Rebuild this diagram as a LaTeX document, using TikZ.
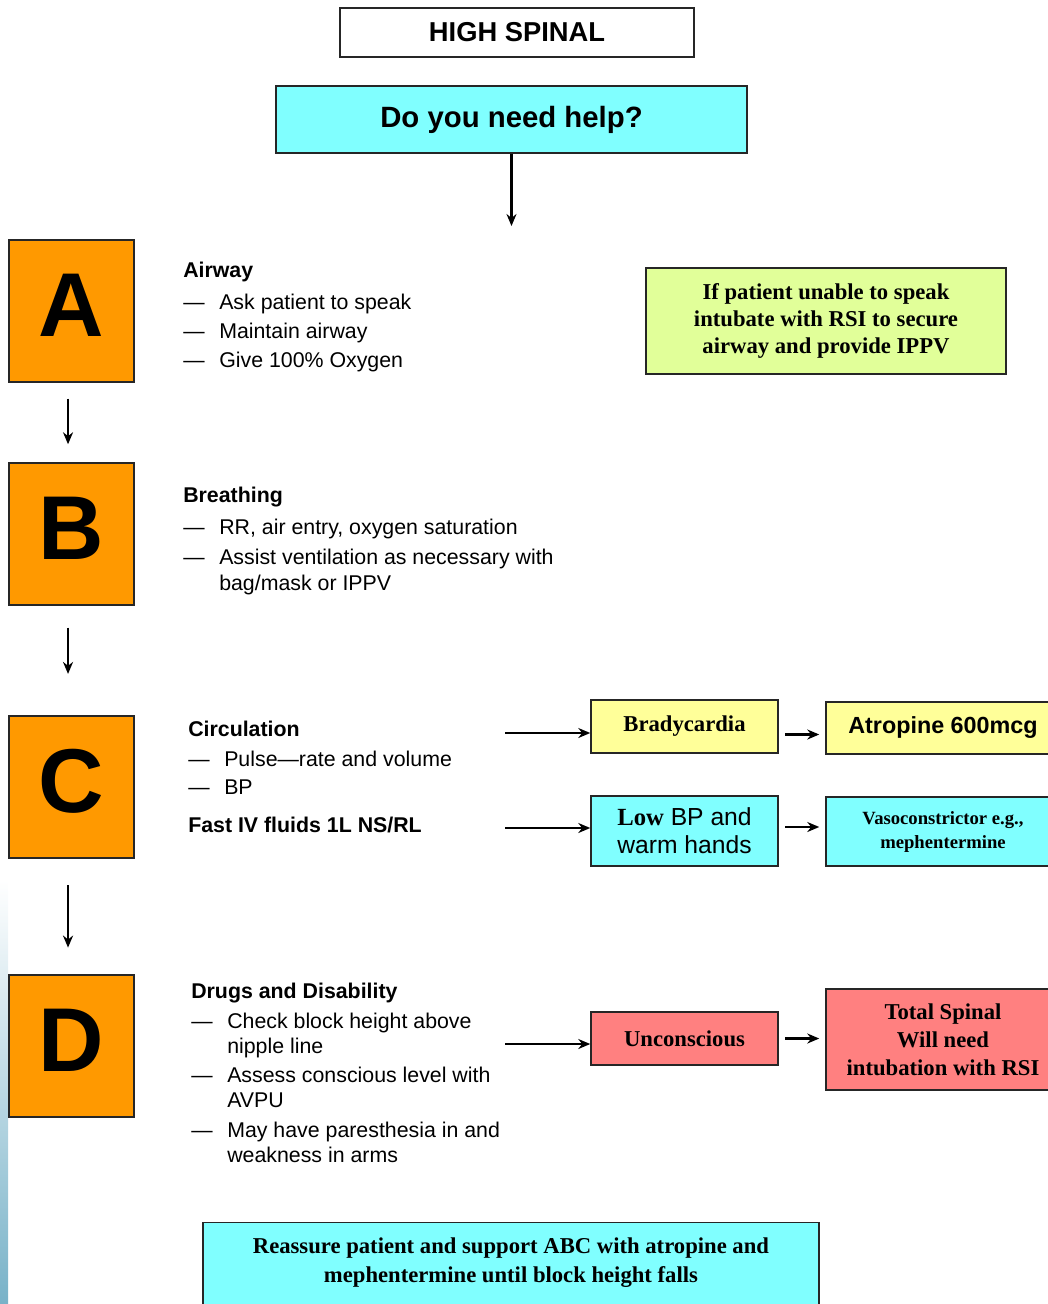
\documentclass[tikz,border=0pt]{standalone}
\usepackage{fontspec}
\setmainfont{Liberation Sans}
\newfontfamily\timesfont{Liberation Serif}
\usetikzlibrary{arrows.meta}

\definecolor{helpcyan}{RGB}{128,255,255}
\definecolor{abcorange}{RGB}{255,153,0}
\definecolor{airgreen}{RGB}{225,255,153}
\definecolor{bradyellow}{RGB}{255,255,153}
\definecolor{spinalred}{RGB}{255,128,128}
\definecolor{stripblue}{RGB}{120,178,200}

\newcommand{\dashitem}{\makebox[27pt][l]{—}}
\newcommand{\wrapline}{\hspace*{27pt}}

\begin{document}
\begin{tikzpicture}[x=0.75pt,y=-0.75pt]
\tikzstyle{every node}+=[inner sep=0pt]
\tikzstyle{box}=[draw=black!85, line width=1.1pt, rectangle, align=center]
\tikzstyle{abc}=[box, fill=abcorange, minimum width=93.75pt, minimum height=106.5pt, font=\fontsize{68}{68}\selectfont\bfseries, text depth=9pt]
\tikzstyle{notes}=[anchor=north west, align=left, font=\fontsize{16}{22}\selectfont]
\tikzstyle{arr}=[-{Stealth[length=9pt,width=7.5pt]}, line width=1.7pt]
\useasboundingbox (0,0) rectangle (1047,1304);
\shade [top color=white, bottom color=stripblue] (0,880) rectangle (8,1304);
% header
\node [box, fill=white, line width=1.6pt, minimum width=265.5pt, minimum height=36.75pt, font=\fontsize{20.5}{20.5}\selectfont\bfseries] (title) at (517,32.5) {HIGH SPINAL};
\node [box, fill=helpcyan, minimum width=353.25pt, minimum height=50.25pt, font=\fontsize{22}{22}\selectfont\bfseries] (help) at (511.5,119.5) {Do you need help?};
\coordinate (helpend) at (511.5,226);
\draw [arr] (help) -- (helpend);
% A B C D
\node [abc] (A) at (71.5,311) {A};
\node [abc] (B) at (71.5,534) {B};
\node [abc] (C) at (71.5,787) {C};
\node [abc] (D) at (71.5,1046) {D};
\draw [arr, shorten <=12pt, shorten >=13.5pt] ([xshift=-2.6pt]A.south) -- ([xshift=-2.6pt]B.north);
\draw [arr, shorten <=16.5pt, shorten >=31pt] ([xshift=-2.6pt]B.south) -- ([xshift=-2.6pt]C.north);
\draw [arr, shorten <=20pt, shorten >=20pt] ([xshift=-2.6pt]C.south) -- ([xshift=-2.6pt]D.north);
% airway
\node [notes] (airway) at (183,262) {\textbf{Airway}\\[1.5pt]
\dashitem Ask patient to speak\\
\dashitem Maintain airway\\
\dashitem Give 100\% Oxygen};
\node [box, fill=airgreen, minimum width=270pt, minimum height=79.5pt, font=\timesfont\bfseries\fontsize{17}{20.25}\selectfont] (rsi) at (826,321) {If patient unable to speak\\intubate with RSI to secure\\airway and provide IPPV};
% breathing
\node [notes] (breathing) at (183,487) {\textbf{Breathing}\\[2pt]
\dashitem RR, air entry, oxygen saturation\\
\dashitem Assist ventilation as necessary with\\[-2pt]
\wrapline bag/mask or IPPV};
% circulation
\node [notes] (circulation) at (188,721) {\textbf{Circulation}\\
\dashitem Pulse—rate and volume\\[-1pt]
\dashitem BP\\[7pt]
\textbf{Fast IV fluids 1L NS/RL}};
\node [box, fill=bradyellow, minimum width=140.25pt, minimum height=39.75pt, font=\timesfont\bfseries\fontsize{17}{20}\selectfont] (brady) at (684.5,726.5) {Bradycardia};
\node [box, fill=bradyellow, minimum width=175.5pt, minimum height=39pt, font=\fontsize{17.5}{20}\selectfont\bfseries] (atropine) at (943,728) {Atropine 600mcg};
\node [box, fill=helpcyan, minimum width=140.25pt, minimum height=52.5pt, font=\fontsize{18.5}{21}\selectfont] (lowbp) at (684.5,831) {{\timesfont\bfseries Low} BP and\\warm hands};
\node [box, fill=helpcyan, minimum width=175.5pt, minimum height=52pt, font=\timesfont\bfseries\fontsize{14}{18}\selectfont] (vaso) at (943,831.5) {Vasoconstrictor e.g.,\\mephentermine};
\coordinate (circ) at (505,733);
\coordinate (fluids) at (505,828);
\draw [arr] (circ) -- (circ -| brady.west);
\draw [arr] (fluids) -- (fluids -| lowbp.west);
\draw [arr, shorten <=5pt, shorten >=4.5pt] ([yshift=-6pt]brady.east) -- ([yshift=-6pt]brady.east -| atropine.west);
\draw [arr, shorten <=5pt, shorten >=4.5pt] ([yshift=3pt]lowbp.east) -- ([yshift=3pt]lowbp.east -| vaso.west);
% drugs
\node [notes, font=\fontsize{16}{18.5}\selectfont] (drugs) at (191,983) {\textbf{Drugs and Disability}\\[4pt]
\dashitem Check block height above\\
\wrapline nipple line\\[3.5pt]
\dashitem Assess conscious level with\\
\wrapline AVPU\\[4pt]
\dashitem May have paresthesia in and\\
\wrapline weakness in arms};
\node [box, fill=spinalred, minimum width=140.25pt, minimum height=39.75pt, font=\timesfont\bfseries\fontsize{17}{20}\selectfont] (uncon) at (684.5,1038.5) {Unconscious};
\node [box, fill=spinalred, minimum width=175.5pt, minimum height=75.75pt, font=\timesfont\bfseries\fontsize{17}{21}\selectfont] (total) at (943,1039.5) {Total Spinal\\Will need\\intubation with RSI};
\coordinate (disab) at (505,1044);
\draw [arr] (disab) -- (disab -| uncon.west);
\draw [arr, shorten <=5pt, shorten >=4.5pt] (uncon.east) -- (uncon.east -| total.west);
% bottom
\node [box, fill=helpcyan, minimum width=462pt, anchor=north, inner ysep=11pt, text depth=25pt, font=\timesfont\bfseries\fontsize{17}{21.75}\selectfont] (reassure) at (511,1222) {Reassure patient and support ABC with atropine and\\mephentermine until block height falls};
\end{tikzpicture}
\end{document}
